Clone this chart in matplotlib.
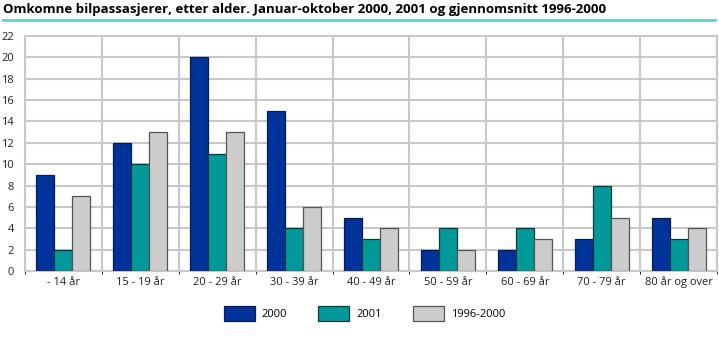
import numpy as np
import matplotlib.pyplot as plt
import matplotlib.patches as mpatches

plt.rcParams['font.family'] = ['Open Sans', 'DejaVu Sans']

# age groups and deaths per series
categories = ['- 14 år', '15 - 19 år', '20 - 29 år', '30 - 39 år', '40 - 49 år',
              '50 - 59 år', '60 - 69 år', '70 - 79 år', '80 år og over']
series_names = ['2000', '2001', '1996-2000']
v2000 = [9, 12, 20, 15, 5, 2, 2, 3, 5]
v2001 = [2, 10, 11, 4, 3, 4, 4, 8, 3]
vavg = [7, 13, 13, 6, 4, 2, 3, 5, 4]
colors = ['#003399', '#009999', '#cccccc']
edges = ['#0a1a55', '#0a3a3a', '#555555']

fig = plt.figure(figsize=(7.19, 3.46), dpi=100)
W, H = 719, 346
ax = fig.add_axes([25 / W, 1 - 271 / H, (717 - 25) / W, (271 - 36) / H])

x = np.arange(len(categories))
bw = 0.234
for i, vals in enumerate([v2000, v2001, vavg]):
    ax.bar(x + (i - 1) * bw, vals, width=bw, color=colors[i], edgecolor=edges[i],
           linewidth=0.9, zorder=3)

ax.set_xlim(-0.5, len(categories) - 0.5)
ax.set_ylim(0, 22)
ax.set_yticks(range(0, 23, 2))
ax.set_xticks(x)
ax.set_xticklabels(categories)
ax.set_xticks(np.arange(-0.5, len(categories)), minor=True)
ax.grid(axis='y', color='#c8c8c8', linewidth=1.5, zorder=0)
ax.grid(axis='x', which='minor', color='#c8c8c8', linewidth=1.5, zorder=0)
ax.tick_params(length=0, labelsize=8, colors='#222222', pad=4)
ax.tick_params(axis='y', pad=8)
for s in ax.spines.values():
    s.set_color('#c8c8c8')
    s.set_linewidth(1.5)

# title and teal rule
fig.text(3 / W, 1 - 10 / H, 'Omkomne bilpassasjerer, etter alder. Januar-oktober 2000, 2001 og gjennomsnitt 1996-2000',
         fontsize=9.5, fontweight='bold', va='center', ha='left')
fig.add_artist(plt.Line2D([3 / W, 715 / W], [1 - 19.5 / H, 1 - 19.5 / H], color='#66cccc', linewidth=2))

handles = [mpatches.Rectangle((0, 0), 1, 1, facecolor=colors[i], edgecolor=edges[i], linewidth=0.9)
           for i in range(3)]
fig.legend(handles, series_names, loc='center left', bbox_to_anchor=(224 / W, 1 - 313 / H), ncol=3,
           frameon=False, fontsize=8, handlelength=2.8, handleheight=1.7, columnspacing=2.8,
           handletextpad=0.6, borderpad=0, borderaxespad=0)

fig.savefig('out.png', dpi=100)
